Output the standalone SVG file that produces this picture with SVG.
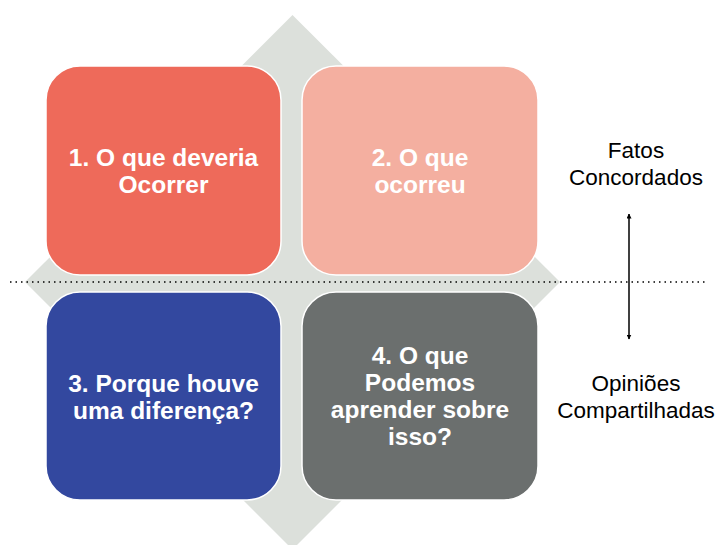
<svg xmlns="http://www.w3.org/2000/svg" width="716" height="545" viewBox="0 0 716 545">
<defs>
<style>
.box{stroke:#ffffff;stroke-width:1.5}
.bt{font-family:"Liberation Sans",Arial,sans-serif;font-weight:bold;font-size:24.5px;fill:#ffffff;text-anchor:middle}
.lt{font-family:"Liberation Sans",Arial,sans-serif;font-size:22.5px;fill:#000000;text-anchor:middle}
</style>
<marker id="ah" viewBox="0 0 10 10" refX="9" refY="5" markerWidth="5" markerHeight="5" orient="auto-start-reverse" markerUnits="userSpaceOnUse">
<path d="M0,0 L10,5 L0,10 z" fill="#000"/>
</marker>
</defs>
<rect width="716" height="545" fill="#ffffff"/>
<g id="diamond">
<polygon points="292.5,15 560,282 292.5,549.5 25,282" fill="#DCE0DB"/>
</g>
<g id="connectors">
<line x1="10" y1="282" x2="706" y2="282" stroke="#000" stroke-width="1.5" stroke-dasharray="1.5 4"/>
<line x1="629" y1="214" x2="629" y2="339" stroke="#000" stroke-width="1.5" marker-start="url(#ah)" marker-end="url(#ah)"/>
</g>
<g id="node1">
<rect class="box" x="46" y="66" width="235" height="209" rx="34" ry="34" fill="#EE6A5A"/>
<text class="bt" x="163.5" y="165.5">1. O que deveria</text>
<text class="bt" x="163.5" y="192.5">Ocorrer</text>
</g>
<g id="node2">
<rect class="box" x="302" y="66" width="236" height="209" rx="34" ry="34" fill="#F4AFA0"/>
<text class="bt" x="420" y="165.5">2. O que</text>
<text class="bt" x="420" y="192.5">ocorreu</text>
</g>
<g id="node3">
<rect class="box" x="46" y="292" width="235" height="208" rx="34" ry="34" fill="#33489F"/>
<text class="bt" x="163.5" y="391.5">3. Porque houve</text>
<text class="bt" x="163.5" y="418.5">uma diferença?</text>
</g>
<g id="node4">
<rect class="box" x="302" y="292" width="236" height="208" rx="34" ry="34" fill="#6B6F6E"/>
<text class="bt" x="420" y="364">4. O que</text>
<text class="bt" x="420" y="391">Podemos</text>
<text class="bt" x="420" y="418">aprender sobre</text>
<text class="bt" x="420" y="445">isso?</text>
</g>
<g id="label-top">
<text class="lt" x="636" y="158">Fatos</text>
<text class="lt" x="636" y="185">Concordados</text>
</g>
<g id="label-bottom">
<text class="lt" x="636" y="391">Opiniões</text>
<text class="lt" x="636" y="418">Compartilhadas</text>
</g>
</svg>
